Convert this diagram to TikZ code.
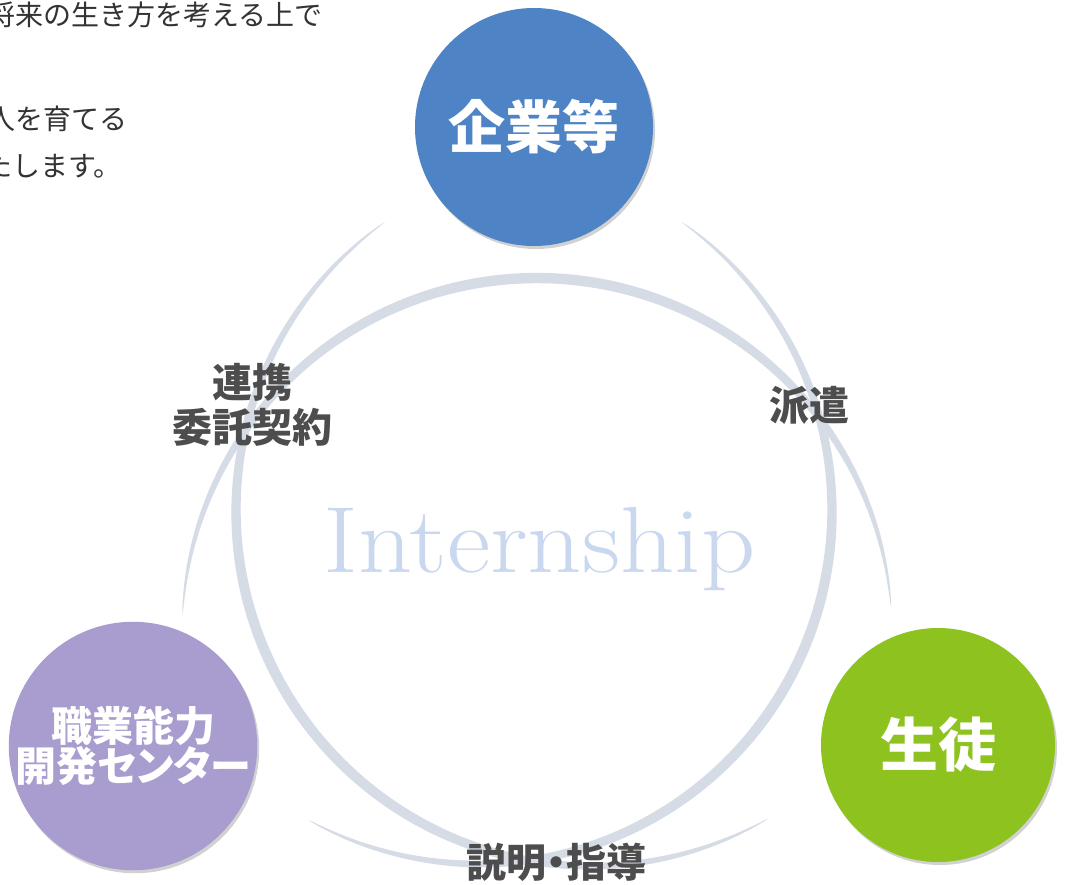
\documentclass[tikz,border=0pt]{standalone}
\usepackage{fontspec}
\newfontfamily\jp{Noto Sans CJK JP}
\newfontfamily\jpp{Noto Sans CJK JP}[RawFeature=+palt]
\usetikzlibrary{shadows}
\definecolor{arcc}{HTML}{D6DCE6}
\definecolor{blueC}{HTML}{4E84C6}
\definecolor{purpC}{HTML}{A99CCF}
\definecolor{greenC}{HTML}{8DC21F}
\definecolor{labc}{HTML}{4D4D4D}
\definecolor{txtc}{HTML}{333333}
\definecolor{intc}{HTML}{C9D8EF}
% crescent: centre x, centre y, radius, start angle, end angle, half thickness
\newcommand\mycrescent[6]{%
  \fill[arcc] plot[domain=#4:#5, samples=160, variable=\t]
    ({#1+(#3+#6*pow(abs(sin(180/((#5)-(#4))*(\t-(#4)))),0.6))*cos(\t)},{#2+(#3+#6*pow(abs(sin(180/((#5)-(#4))*(\t-(#4)))),0.6))*sin(\t)})
    -- plot[domain=#5:#4, samples=160, variable=\t]
    ({#1+(#3-#6*pow(abs(sin(180/((#5)-(#4))*(\t-(#4)))),0.6))*cos(\t)},{#2+(#3-#6*pow(abs(sin(180/((#5)-(#4))*(\t-(#4)))),0.6))*sin(\t)})
    -- cycle;}
\begin{document}
\begin{tikzpicture}[x=1pt,y=-1pt,
  hub/.style={circle, minimum size=238pt, inner sep=0pt, text=white, align=center,
    drop shadow={shadow xshift=2pt, shadow yshift=-3pt, opacity=0.18, fill=black}},
  lab/.style={text=labc, align=center, inner sep=0pt, font=\jp\bfseries\fontsize{40}{45}\selectfont},
  body/.style={anchor=east, text=txtc, inner sep=0pt, font=\jp\fontsize{28}{28}\selectfont}]
\useasboundingbox (0,0) rectangle (1075,884);
\fill[white] (0,0) rectangle (1075,884);

% top-left text (clipped at the left edge)
\node[body] (t1) at (323,15) {将来の生き方を考える上で};
\node[body] (t3) at (128,119) {人を育てる};
\node[body] (t4) at (122,166) {たします。};

% Internship watermark
\node[font=\fontsize{94}{94}\selectfont, text=intc, anchor=base west, inner sep=0pt] (intern) at (323,572) {\scalebox{1.13}[1]{Internship}};

% three interlaced tapered crescents forming the ring
\mycrescent{537}{633}{355}{-177}{-4}{5.2}
\mycrescent{479}{511}{353}{-55}{119}{5.2}
\mycrescent{591}{511}{355}{60}{234.5}{5.2}

% hubs
\node[hub, fill=blueC, font=\jp\bfseries\fontsize{57}{60}\selectfont] (kigyo) at (534,127) {企業等};
\node[hub, fill=purpC, font=\jp\bfseries\fontsize{41}{39}\selectfont] (center) at (133,746) {職業能力\\{\jpp 開発センター}};
\node[hub, fill=greenC, font=\jp\bfseries\fontsize{58}{60}\selectfont, minimum size=234pt] (seito) at (938,745) {生徒};

% relation labels
\node[lab] (renkei) at (252,405) {連携\\委託契約};
\node[lab] (haken) at (809,405) {派遣};
\node[lab] (setsumei) at (556,862) {\jpp 説明・指導};
\end{tikzpicture}
\end{document}
